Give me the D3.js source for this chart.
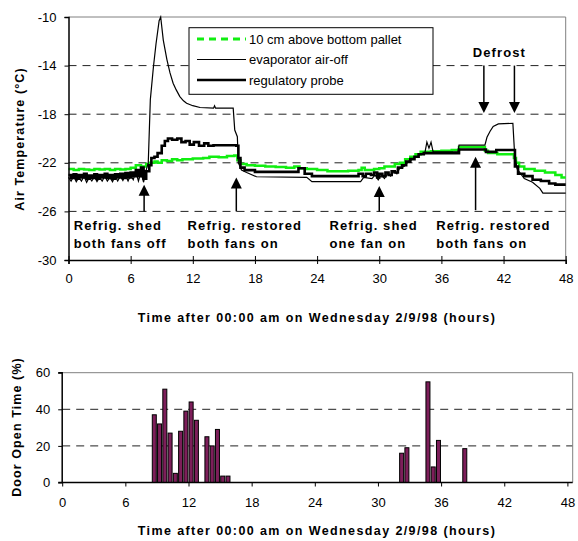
<!doctype html>
<html>
<head>
    <meta charset="utf-8">
    <script src="https://cdn.jsdelivr.net/npm/d3@7"></script>
</head>
<style>
    body { margin: 0; background: #fff; }
    svg text { font-family: "Liberation Sans", Arial, sans-serif; fill: #000; }
    .tick text { font-size: 13px; }
    .title { font-size: 12.5px; font-weight: bold; letter-spacing: 1.4px; }
    .note { font-size: 13px; font-weight: bold; letter-spacing: 1.1px; }
    .legend text { font-size: 13px; }
    .grid line { stroke: #222; stroke-dasharray: 8,6; }
</style>
<body>
    <div id="chart"></div>
    <script>
        // values
        var hourTicks = [0, 6, 12, 18, 24, 30, 36, 42, 48];
        var tempTicks = [-30, -26, -22, -18, -14, -10];
        var doorTicks = [0, 20, 40, 60];

        // 10 cm above bottom pallet [hour, degC]
        var palletTemp = [[0,-22.5],[0.5,-22.6],[1,-22.5],[1.5,-22.55],[2,-22.6],[2.5,-22.5],[3,-22.55],[3.5,-22.5],
            [4,-22.6],[4.5,-22.5],[5,-22.55],[5.5,-22.5],[6,-22.4],[6.5,-22.2],[7,-22.3],[7.5,-22.1],[7.9,-22.0],
            [8.3,-21.9],[8.6,-22.0],[9,-21.8],[9.5,-21.85],[10,-21.7],[10.5,-21.8],[11,-21.7],[12,-21.65],[13,-21.6],
            [13.6,-21.5],[14.5,-21.55],[15.3,-21.45],[16,-21.4],[16.3,-21.8],[16.6,-22.1],[17.2,-22.2],[18,-22.25],
            [19,-22.3],[20,-22.35],[21,-22.4],[21.8,-22.3],[22.3,-22.45],[23,-22.5],[24,-22.6],[25,-22.7],[26,-22.7],
            [27,-22.65],[28,-22.6],[28.3,-22.4],[28.6,-22.6],[29.5,-22.5],[30,-22.45],[30.5,-22.3],[31,-22.3],
            [31.5,-22.1],[32,-22.0],[32.5,-21.7],[33,-21.5],[33.5,-21.3],[34,-21.1],[35,-21.05],[36,-21.0],
            [37,-20.95],[37.7,-20.7],[40.2,-21.0],[40.5,-21.2],[41.4,-21.3],[43.0,-21.6],[43.2,-22.0],[43.5,-22.3],
            [44,-22.5],[45,-22.65],[46,-22.8],[47,-23.0],[47.6,-23.2],[48,-23.2]];

        // evaporator air-off
        var evapTemp = [[0,-23.2],[0.25,-23.5],[0.5,-23.1],[0.75,-23.55],[1,-23.2],[1.25,-23.5],[1.5,-23.1],[1.75,-23.6],
            [2,-23.2],[2.25,-23.5],[2.5,-23.15],[2.75,-23.55],[3,-23.2],[3.25,-23.5],[3.5,-23.1],[3.75,-23.5],
            [4,-23.2],[4.25,-23.55],[4.5,-23.1],[4.75,-23.5],[5,-23.1],[5.25,-23.45],[5.5,-23.0],[5.75,-23.5],
            [6,-23.0],[6.25,-23.4],[6.5,-22.7],[6.75,-23.5],[7,-22.8],[7.25,-23.6],[7.5,-22.6],[7.7,-22.0],
            [7.9,-16.8],[8.2,-14.1],[8.45,-12.2],[8.75,-10.3],[8.9,-10.0],[9.15,-11.9],[9.5,-13.5],[9.8,-14.6],
            [10.1,-15.45],[10.4,-16.0],[10.75,-16.55],[11.1,-16.9],[11.4,-17.1],[12,-17.3],[12.7,-17.45],[14,-17.5],
            [14.1,-17.3],[14.2,-17.5],[15.9,-17.5],[16.05,-19.3],[16.3,-19.85],[16.4,-22.0],[16.7,-22.6],[17.2,-22.8],
            [18.15,-23.15],[23,-23.2],[23.5,-23.55],[28.2,-23.55],[28.5,-23.2],[29.3,-23.3],[29.6,-23.0],[29.9,-23.4],
            [30.2,-23.0],[30.5,-23.3],[30.8,-22.9],[31.1,-23.1],[31.4,-22.7],[31.7,-22.9],[32,-22.4],[32.4,-22.3],
            [32.8,-21.9],[33.2,-21.7],[33.6,-21.5],[34,-21.3],[34.4,-21.2],[34.6,-20.3],[34.8,-20.8],[35,-20.3],
            [35.2,-21.1],[37.6,-21.1],[37.7,-20.55],[40.2,-20.55],[40.4,-19.9],[40.7,-19.4],[41,-19.0],[41.5,-18.8],
            [42.9,-18.75],[43.05,-21.0],[43.3,-22.5],[44,-23.3],[44.8,-23.6],[45.5,-24.1],[45.8,-24.5],[48,-24.5]];

        // regulatory probe
        var probeTemp = [[0,-23.0],[0.25,-23.25],[0.5,-22.95],[0.75,-23.3],[1,-23.0],[1.25,-23.2],[1.5,-22.9],[1.75,-23.3],
            [2,-23.05],[2.25,-23.25],[2.5,-22.95],[2.75,-23.3],[3,-23.0],[3.25,-23.2],[3.5,-22.9],[3.75,-23.25],
            [4,-23.0],[4.25,-23.3],[4.5,-22.95],[4.75,-23.2],[5,-22.9],[5.25,-23.25],[5.5,-22.85],[5.75,-23.2],
            [6,-22.8],[6.25,-23.1],[6.5,-22.6],[6.75,-23.1],[7,-22.4],[7.25,-23.3],[7.5,-22.7],[7.8,-22.2],
            [8.0,-21.6],[8.3,-21.5],[8.6,-21.2],[9,-20.6],[9.3,-20.2],[9.6,-20.0],[10,-20.1],[10.5,-20.0],
            [10.9,-20.3],[11.3,-20.2],[11.7,-20.5],[12.1,-20.3],[12.6,-20.6],[13.1,-20.4],[13.5,-20.6],[14,-20.55],
            [16.2,-20.6],[16.4,-21.6],[16.6,-22.4],[17,-22.6],[18,-22.75],[22.2,-22.45],[22.8,-22.9],[23.5,-23.1],
            [28,-22.9],[28.4,-23.1],[28.7,-22.9],[29.2,-23.0],[29.5,-22.8],[29.8,-23.2],[30,-22.9],[30.3,-23.1],
            [30.6,-22.8],[30.9,-23.0],[31.2,-22.7],[31.5,-22.8],[31.8,-22.4],[32.2,-22.2],[32.6,-21.9],[33,-21.7],
            [33.4,-21.5],[33.8,-21.3],[34.3,-21.2],[37.7,-20.9],[40.3,-21.1],[41.3,-20.95],[43.0,-20.95],[43.1,-22.3],
            [43.4,-22.9],[44,-23.1],[44.8,-23.4],[45.6,-23.5],[46.4,-23.7],[47,-23.8],[48,-23.8]];

        // door open time (% of half hour)
        var doorHours = [8.75, 9.25, 9.75, 10.25, 10.75, 11.25, 11.75, 12.25, 12.75, 13.75, 14.25, 14.75, 15.25, 15.75,
                         32.25, 32.75, 34.75, 35.25, 35.75, 38.25];
        var doorOpen = [37, 32, 51, 27, 5, 28, 39, 44, 34, 25, 20, 29, 3.5, 3.5,
                        16, 19, 55, 8.5, 23, 18.5];

        // annotations
        var upArrows = [[7.3, -26, -23.8], [16.2, -26, -23.2], [30, -26, -23.9], [39.3, -25.9, -21.5]];
        var downArrows = [[40.1, -14.0, -17.9], [43.05, -14.0, -17.9]];
        var notes = [[0.5, "Refrig. shed", "both fans off"], [11.5, "Refrig. restored", "both fans on"],
                     [25.2, "Refrig. shed", "one fan on"], [35.5, "Refrig. restored", "both fans on"]];

        var width = 578, height = 541;
        var plain = function(d) { return String(d); };

        var svg = d3.select("#chart").append("svg")
                    .attr("width", width)
                    .attr("height", height);

        /********** top chart: air temperature **********/
        var x = d3.scaleLinear().domain([0, 48]).range([68.5, 565.7]);
        var y = d3.scaleLinear().domain([-30, -10]).range([260, 17]);

        var topG = svg.append("g");

        topG.append("g").attr("class", "grid")
           .selectAll("line").data(tempTicks.slice(1, 5)).enter()
           .append("line")
           .attr("x1", x(0)).attr("x2", x(48))
           .attr("y1", function(d) { return y(d); })
           .attr("y2", function(d) { return y(d); });

        // plot frame top/right
        topG.append("path")
           .attr("d", "M" + x(0) + "," + y(-10) + "H" + x(48) + "V" + y(-30))
           .attr("fill", "none").attr("stroke", "#808080");

        var line = d3.line()
                     .x(function(d) { return x(d[0]); })
                     .y(function(d) { return y(d[1]); });
        var stepLine = d3.line()
                     .x(function(d) { return x(d[0]); })
                     .y(function(d) { return y(d[1]); })
                     .curve(d3.curveStepAfter);

        topG.append("path").datum(palletTemp)
           .attr("d", stepLine).attr("fill", "none")
           .attr("stroke", "#11ee11").attr("stroke-width", 2.5);
        topG.append("path").datum(evapTemp)
           .attr("d", line).attr("fill", "none")
           .attr("stroke", "#000").attr("stroke-width", 1.2);
        topG.append("path").datum(probeTemp)
           .attr("d", stepLine).attr("fill", "none")
           .attr("stroke", "#000").attr("stroke-width", 2.6);

        var yAxis = topG.append("g")
           .attr("transform", "translate(" + x(0) + ",0)")
           .call(d3.axisLeft(y).tickValues(tempTicks).tickFormat(plain).tickSize(4).tickPadding(8));
        var xAxis = topG.append("g")
           .attr("transform", "translate(0," + y(-30) + ")")
           .call(d3.axisBottom(x).tickValues(hourTicks).tickFormat(plain).tickSize(4).tickPadding(10));
        xAxis.selectAll(".tick line").attr("y1", -4);
        [yAxis, xAxis].forEach(function(a) {
            a.select(".domain").attr("stroke", "#000").attr("stroke-width", 1.5);
            a.selectAll("text").attr("font-family", null).attr("font-size", null);
        });

        // arrows
        var arrowHead = function(g, hx, tipY, dir) {
            g.append("path")
             .attr("d", "M" + hx + "," + tipY + "l-5.5," + (dir * 11) + "h11z")
             .attr("fill", "#000");
        };
        upArrows.forEach(function(a) {
            topG.append("line")
               .attr("x1", x(a[0])).attr("x2", x(a[0]))
               .attr("y1", y(a[1])).attr("y2", y(a[2]) + 6)
               .attr("stroke", "#000").attr("stroke-width", 1.5);
            arrowHead(topG, x(a[0]), y(a[2]), 1);
        });
        downArrows.forEach(function(a) {
            topG.append("line")
               .attr("x1", x(a[0])).attr("x2", x(a[0]))
               .attr("y1", y(a[1])).attr("y2", y(a[2]) - 6)
               .attr("stroke", "#000").attr("stroke-width", 1.5);
            arrowHead(topG, x(a[0]), y(a[2]), -1);
        });

        topG.append("text").attr("class", "note")
           .attr("x", x(41.6)).attr("y", y(-13.3))
           .attr("text-anchor", "middle")
           .text("Defrost");

        notes.forEach(function(n) {
            var t = topG.append("text").attr("class", "note")
                       .attr("x", x(n[0])).attr("y", y(-26) + 19);
            t.append("tspan").attr("x", x(n[0])).text(n[1]);
            t.append("tspan").attr("x", x(n[0])).attr("dy", 17.5).text(n[2]);
        });

        // legend
        var legend = topG.append("g").attr("class", "legend");
        legend.append("rect")
              .attr("x", 189).attr("y", 27.7).attr("width", 244).attr("height", 66.6)
              .attr("fill", "#fff").attr("stroke", "#000");
        var legendItems = [
            ["10 cm above bottom pallet", "#11ee11", 3, "7,5"],
            ["evaporator air-off", "#000", 1.2, null],
            ["regulatory probe", "#000", 2.6, null]
        ];
        legendItems.forEach(function(d, i) {
            var ly = 39 + i * 20.5;
            legend.append("line")
                  .attr("x1", 197).attr("x2", 246)
                  .attr("y1", ly).attr("y2", ly)
                  .attr("stroke", d[1]).attr("stroke-width", d[2])
                  .attr("stroke-dasharray", d[3]);
            legend.append("text")
                  .attr("x", 249).attr("y", ly + 4.5)
                  .text(d[0]);
        });

        topG.append("text").attr("class", "title")
           .attr("x", 317).attr("y", 322)
           .attr("text-anchor", "middle")
           .text("Time after 00:00 am on Wednesday 2/9/98 (hours)");
        topG.append("text").attr("class", "title")
           .attr("transform", "translate(24,139) rotate(-90)")
           .attr("text-anchor", "middle")
           .style("letter-spacing", "1.1px")
           .text("Air Temperature (\u00B0C)");

        /********** bottom chart: door open time **********/
        var x2 = d3.scaleLinear().domain([0, 48]).range([62.2, 567.4]);
        var y2 = d3.scaleLinear().domain([0, 60]).range([482.5, 372.7]);
        var hourWidth = x2(1) - x2(0);

        var bottomG = svg.append("g");

        bottomG.append("g").attr("class", "grid")
           .selectAll("line").data(doorTicks.slice(1, 3)).enter()
           .append("line")
           .attr("x1", x2(0)).attr("x2", 572.7)
           .attr("y1", function(d) { return y2(d); })
           .attr("y2", function(d) { return y2(d); });

        bottomG.append("path")
           .attr("d", "M" + x2(0) + "," + y2(60) + "H572.7V" + y2(0))
           .attr("fill", "none").attr("stroke", "#808080");

        bottomG.selectAll("rect.bar")
           .data(doorOpen).enter()
           .append("rect").attr("class", "bar")
           .attr("x", function(d, i) { return x2(doorHours[i]) - 0.19 * hourWidth; })
           .attr("width", 0.38 * hourWidth)
           .attr("y", function(d) { return y2(d); })
           .attr("height", function(d) { return y2(0) - y2(d); })
           .attr("fill", "#7d1e5a")
           .attr("stroke", "#000").attr("stroke-width", 1);

        var yAxis2 = bottomG.append("g")
           .attr("transform", "translate(" + x2(0) + ",0)")
           .call(d3.axisLeft(y2).tickValues(doorTicks).tickFormat(plain).tickSize(4).tickPadding(8));
        var xAxis2 = bottomG.append("g")
           .attr("transform", "translate(0," + y2(0) + ")")
           .call(d3.axisBottom(x2).tickValues(hourTicks).tickFormat(plain).tickSize(4).tickPadding(11));
        yAxis2.select(".domain").attr("d", "M-4," + y2(60) + "H0V" + y2(0) + "H-4");
        xAxis2.select(".domain").attr("d", "M" + x2(0) + ",0H572.7");
        [yAxis2, xAxis2].forEach(function(a) {
            a.select(".domain").attr("stroke", "#000").attr("stroke-width", 1.5);
            a.selectAll("text").attr("font-family", null).attr("font-size", null);
        });

        bottomG.append("text").attr("class", "title")
           .attr("x", 317).attr("y", 535)
           .attr("text-anchor", "middle")
           .text("Time after 00:00 am on Wednesday 2/9/98 (hours)");
        bottomG.append("text").attr("class", "title")
           .attr("transform", "translate(21,427) rotate(-90)")
           .attr("text-anchor", "middle")
           .style("letter-spacing", "1.1px")
           .text("Door Open Time (%)");
    </script>
</body>
</html>
